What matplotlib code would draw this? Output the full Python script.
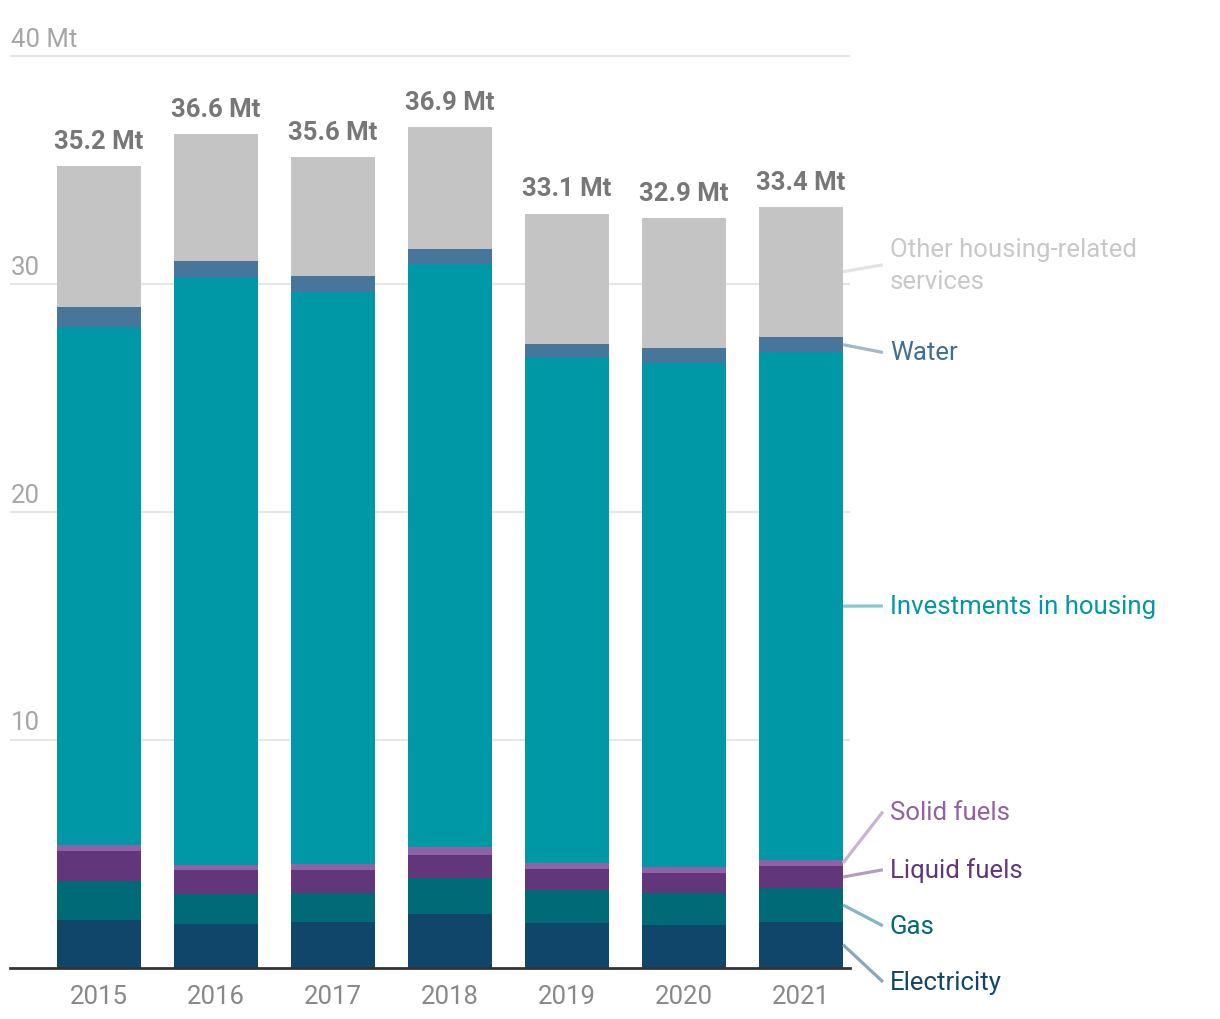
import matplotlib.pyplot as plt
import numpy as np

plt.rcParams['font.family'] = ['Roboto', 'DejaVu Sans']

# === DATA ===
years = ['2015', '2016', '2017', '2018', '2019', '2020', '2021']
totals = [35.2, 36.6, 35.6, 36.9, 33.1, 32.9, 33.4]

electricity = [2.09, 1.92, 2.00, 2.36, 1.96, 1.87, 2.00]
gas = [1.72, 1.30, 1.28, 1.56, 1.45, 1.41, 1.49]
liquid_fuels = [1.31, 1.07, 1.01, 1.03, 0.92, 0.88, 0.97]
solid_fuels = [0.27, 0.22, 0.26, 0.35, 0.27, 0.26, 0.27]
investments = [22.74, 25.81, 25.11, 25.58, 22.21, 22.13, 22.27]
water = [0.87, 0.70, 0.71, 0.67, 0.57, 0.65, 0.69]
other_services = [6.20, 5.58, 5.23, 5.35, 5.72, 5.70, 5.71]

series = [
    ('Electricity', electricity, '#10466a', '#8aa6b8'),
    ('Gas', gas, '#006a77', '#7fb8bf'),
    ('Liquid fuels', liquid_fuels, '#62367a', '#b39ec0'),
    ('Solid fuels', solid_fuels, '#8f62a8', '#c9b3d6'),
    ('Investments in housing', investments, '#0097a7', '#7fcbd3'),
    ('Water', water, '#48769a', '#a0b8cb'),
    ('Other housing-related\nservices', other_services, '#c4c4c4', '#e3e3e3'),
]
label_colors = ['#10466a', '#006a77', '#62367a', '#8f62a8', '#0097a7', '#3f6e94', '#c8c8c8']
# label y-positions (data units) for the right-hand annotations
label_y = [-0.63, 1.83, 4.29, 6.84, 15.87, 27.0, 30.85]

# === PLOT ===
fig = plt.figure(figsize=(12.2, 10.2), dpi=100)
ax = fig.add_axes([10 / 1220, 1 - 968.5 / 1020, 840 / 1220, 915.7 / 1020])

x = np.arange(len(years))
width = 0.72
bottom = np.zeros(len(years))
mids = []
for name, vals, col, _ in series:
    vals = np.array(vals)
    ax.bar(x, vals, width, bottom=bottom, color=col, zorder=3)
    mids.append(bottom[-1] + vals[-1] / 2)
    bottom += vals

ax.set_xlim(-0.761, 6.419)
ax.set_ylim(0, 40.2)

for g in [10, 20, 30, 40]:
    ax.axhline(g, color='#e6e6e6', lw=1.5, zorder=1)
    lab = '40 Mt' if g == 40 else str(g)
    ax.annotate(lab, xy=(0, g), xycoords=('axes fraction', 'data'),
                xytext=(0.5, 7.5), textcoords='offset points',
                ha='left', va='baseline', fontsize=18.5, color='#a6a6a6')

for xi, t in zip(x, totals):
    ax.annotate(f'{t} Mt', xy=(xi, t), xytext=(0, 13), textcoords='offset points',
                ha='center', va='baseline', fontsize=18.5, fontweight='bold',
                color='#777777')

# right-hand labels with connectors
x_bar_edge = x[-1] + width / 2
x_line_end = 6.70
x_text = 6.76
for (name, vals, col, lcol), ly, tcol, my in zip(series, label_y, label_colors, mids):
    ax.plot([x_bar_edge, x_line_end], [my, ly], color=lcol, lw=2.3,
            clip_on=False, zorder=4, solid_capstyle='butt')
    ax.text(x_text, ly, name, ha='left', va='center', fontsize=18.5,
            color=tcol, clip_on=False, linespacing=1.4)

ax.set_xticks(x)
ax.set_xticklabels(years, fontsize=18.5, color='#888888')
ax.tick_params(axis='x', length=0, pad=12)
ax.set_yticks([])
for s in ['top', 'right', 'left']:
    ax.spines[s].set_visible(False)
ax.spines['bottom'].set_color('#333333')
ax.spines['bottom'].set_linewidth(2)
ax.spines['bottom'].set_zorder(5)

fig.savefig('out.png', dpi=100)
